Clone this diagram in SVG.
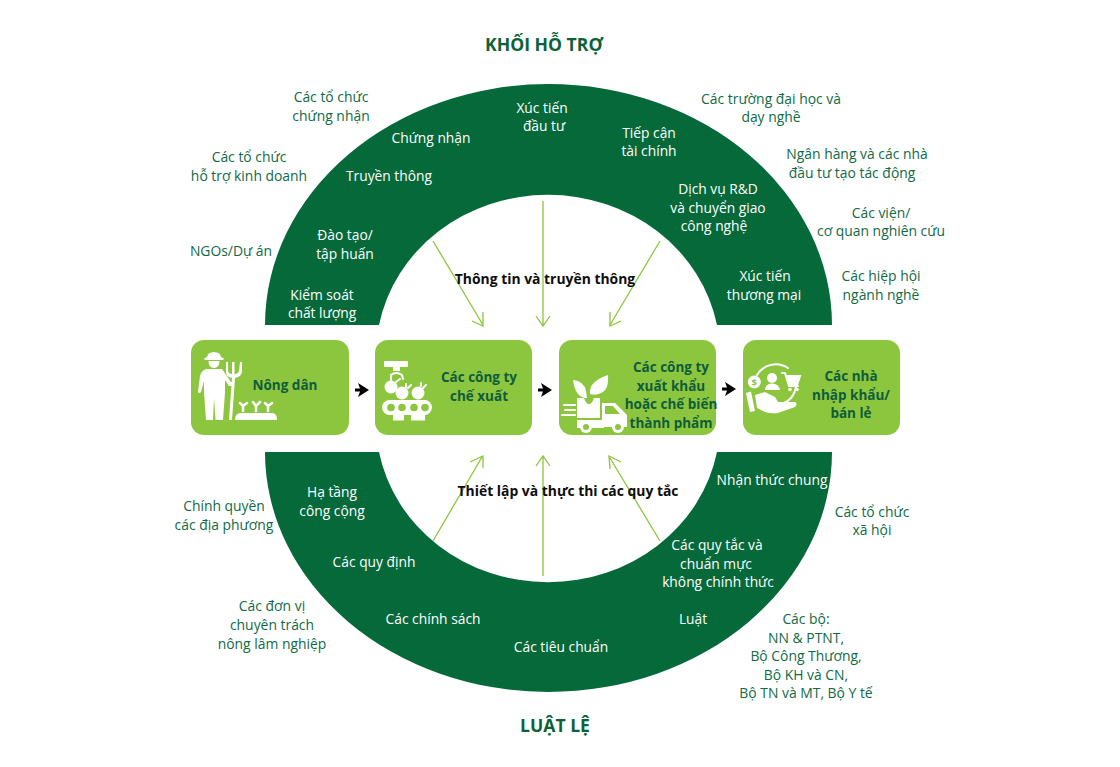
<svg xmlns="http://www.w3.org/2000/svg" width="1120" height="767" viewBox="0 0 1120 767">
<style>
text{font-family:"Open Sans","Noto Sans","Liberation Sans",sans-serif;text-anchor:middle}
.o{font-size:13.900px;fill:#0f6a46}
.w{font-size:13.800px;fill:#fff}
.h{font-size:17.600px;font-weight:700;fill:#0c6238}
.m{font-size:13.900px;font-weight:700;fill:#0d0d0d}
.n{font-size:13.500px;font-weight:700;fill:#0f5c3c}
.box{fill:#8cc63e}
.ring{fill:#05693a}
.c{stroke:#8cc63e;stroke-width:1.3;fill:none}
.k{fill:#000;stroke:none}
.i{fill:#fff;stroke:none}
.g{fill:#8cc63e;stroke:none}
.l{fill:none;stroke:#fff;stroke-width:2;stroke-linecap:round}
</style>
<rect width="1120" height="767" fill="#fff"/>
<g id="ring-top"><path class="ring" d="M265 325A283.500 241 0 0 1 832 325H717A172 160 0 0 0 379 325Z"/></g>
<g id="ring-bottom"><path class="ring" d="M265 452A283.500 240 0 0 0 832 452H717A172 160 0 0 1 379 452Z"/></g>
<g id="connectors">
<path class="c" d="M433 241L483 325M483 312L483 326L472 321"/>
<path class="c" d="M543 201V326M536 316L543 326L550 316"/>
<path class="c" d="M660 241L610 325M610 312L610 326L621 321"/>
<path class="c" d="M433 541L482 457M470 462L483 456L483 468"/>
<path class="c" d="M543 576V457M536 466L543 456L550 466"/>
<path class="c" d="M660 541L610 458M621 462L609 456L610 469"/>
<path class="k" d="M355 388.500H360L358 383L369 390L358 397L360 391.500H355Z"/>
<path class="k" d="M538 388.500H543L541 383L552 390L541 397L543 391.500H538Z"/>
<path class="k" d="M722 387.500H727L725 382L736 389L725 396L727 390.500H722Z"/>
</g>
<g id="titles">
<text class="h" x="544" y="51">KHỐI HỖ TRỢ</text>
<text class="h" x="555" y="732">LUẬT LỆ</text>
<text class="m" x="545" y="284">Thông tin và truyền thông</text>
<text class="m" x="568" y="496">Thiết lập và thực thi các quy tắc</text>
</g>
<g id="ring-labels">
<text class="w" x="431" y="143">Chứng nhận</text>
<text class="w" x="389" y="181">Truyền thông</text>
<text class="w" x="345" y="240">Đào tạo/</text><text class="w" x="345" y="259">tập huấn</text>
<text class="w" x="322" y="300">Kiểm soát</text><text class="w" x="322" y="318">chất lượng</text>
<text class="w" x="542" y="113">Xúc tiến</text><text class="w" x="544" y="131">đầu tư</text>
<text class="w" x="649" y="138">Tiếp cận</text><text class="w" x="649" y="156">tài chính</text>
<text class="w" x="718" y="194">Dịch vụ R&amp;D</text><text class="w" x="718" y="213">và chuyển giao</text><text class="w" x="714" y="231">công nghệ</text>
<text class="w" x="765" y="281">Xúc tiến</text><text class="w" x="764" y="300">thương mại</text>
<text class="w" x="332" y="497">Hạ tầng</text><text class="w" x="332" y="516">công cộng</text>
<text class="w" x="374" y="567">Các quy định</text>
<text class="w" x="433" y="624">Các chính sách</text>
<text class="w" x="561" y="652">Các tiêu chuẩn</text>
<text class="w" x="693" y="624">Luật</text>
<text class="w" x="717" y="550">Các quy tắc và</text><text class="w" x="716" y="569">chuẩn mực</text><text class="w" x="718" y="587">không chính thức</text>
<text class="w" x="772" y="485">Nhận thức chung</text>
</g>
<g id="outer-labels">
<text class="o" x="331" y="102">Các tổ chức</text><text class="o" x="331" y="121">chứng nhận</text>
<text class="o" x="249" y="162">Các tổ chức</text><text class="o" x="249" y="181">hỗ trợ kinh doanh</text>
<text class="o" x="231" y="256">NGOs/Dự án</text>
<text class="o" x="771" y="104">Các trường đại học và</text><text class="o" x="771" y="122">dạy nghề</text>
<text class="o" x="857" y="159">Ngân hàng và các nhà</text><text class="o" x="852" y="178">đầu tư tạo tác động</text>
<text class="o" x="881" y="218">Các viện/</text><text class="o" x="881" y="236">cơ quan nghiên cứu</text>
<text class="o" x="881" y="281">Các hiệp hội</text><text class="o" x="881" y="300">ngành nghề</text>
<text class="o" x="224" y="511">Chính quyền</text><text class="o" x="224" y="530">các địa phương</text>
<text class="o" x="272" y="611">Các đơn vị</text><text class="o" x="272" y="630">chuyên trách</text><text class="o" x="272" y="649">nông lâm nghiệp</text>
<text class="o" x="872" y="517">Các tổ chức</text><text class="o" x="872" y="535">xã hội</text>
<text class="o" x="806" y="624">Các bộ:</text><text class="o" x="806" y="643">NN &amp; PTNT,</text><text class="o" x="806" y="661">Bộ Công Thương,</text><text class="o" x="806" y="680">Bộ KH và CN,</text><text class="o" x="806" y="698">Bộ TN và MT, Bộ Y tế</text>
</g>
<g id="node-nong-dan">
<rect class="box" x="191" y="340" width="158" height="95" rx="13"/>
<path class="i" d="M204 358.500Q208 357 208 354Q214 350 220 354Q220 357 224 358.500Q224 360 220 360H208Q204 360 204 358.500Z"/>
<path class="i" d="M208.500 361H219.500Q219.500 368 214 368Q208.500 368 208.500 361Z"/>
<path class="i" d="M206 369H222L231 382H234V386H229L225 380V392L223 420H215.500L214 398L213 420H206L204 392V381L201 392Q199 394 198 392L200 376Q201 371 206 369Z"/>
<path class="i" d="M226 362L228 362V371Q229 374 232 374L232 362H234.500L234.500 374Q238 374 239 371L240 362H242V372Q241 377 235 378L232 420H229L232 378Q226 377 226 372Z"/>
<path class="i" d="M235 420Q235 413 241 413H272Q277 413 277 420Z"/>
<path class="l" style="stroke-width:2.500" d="M243 411V406M240 403L243 406L247 403M256 411V406M253 402L256 406L260 402M268 411V406M265 403L268 406L272 403"/>
<text class="n" x="285" y="390">Nông dân</text>
</g>
<g id="node-che-xuat">
<rect class="box" x="375" y="340" width="157" height="95" rx="13"/>
<rect class="i" x="384" y="361" width="24" height="6" rx="1"/>
<path class="i" d="M393 367H400V371H393Z"/>
<path class="l" d="M391 380V375Q396 371 402 375L403 379"/>
<circle class="i" cx="391" cy="387" r="6.500"/><circle class="i" cx="402" cy="393" r="6.500"/><circle class="i" cx="418" cy="393" r="6.500"/>
<path class="l" d="M396 382L400 379M408 388L411 385M406 387L406 384M423 388L426 385M421 386L421 383"/>
<rect class="i" x="382" y="400" width="50" height="15" rx="7.500"/>
<rect class="i" x="393" y="415" width="11" height="5.500"/><rect class="i" x="411" y="415" width="14" height="5.500"/>
<circle class="g" cx="391" cy="407.500" r="3.800"/><circle class="g" cx="402" cy="407.500" r="3.800"/><circle class="g" cx="414" cy="407.500" r="3.800"/><circle class="g" cx="425" cy="407.500" r="3.800"/>
<text class="n" x="479" y="382">Các công ty</text><text class="n" x="479" y="401">chế xuất</text>
</g>
<g id="node-xuat-khau">
<rect class="box" x="559" y="340" width="157" height="95" rx="13"/>
<path class="i" d="M573 380Q584 381 586 391L587 398H585Q575 396 573 380Z"/>
<path class="i" d="M608 375Q609 390 601 393Q596 396 590 394Q588 382 608 375Z"/>
<path class="i" d="M577 398H584Q586 404 589 404Q592 404 594 398H600V418H577Z"/>
<path class="i" d="M602 403H615L627 415V427H602Z"/>
<path class="g" d="M605 406H613L620 414H605Z"/>
<path class="i" d="M577 420H604V428H577Z"/>
<path class="l" style="stroke-width:2" d="M564 405H575M565 410H575M562 415H575"/>
<circle class="i" cx="586" cy="427" r="6"/><circle class="i" cx="618" cy="427" r="6"/>
<circle class="g" cx="586" cy="427" r="3"/><circle class="g" cx="618" cy="427" r="3"/>
<text class="n" x="671" y="372">Các công ty</text><text class="n" x="671" y="391">xuất khẩu</text><text class="n" x="671" y="409">hoặc chế biến</text><text class="n" x="671" y="428">thành phẩm</text>
</g>
<g id="node-nhap-khau">
<rect class="box" x="743" y="340" width="157" height="95" rx="13"/>
<path class="l" d="M757 375A22 22 0 0 1 788 368M796 387A22 22 0 0 1 782 404"/>
<circle class="i" cx="754.300" cy="382" r="6.500"/>
<text x="754.300" y="385.500" style="font-size:9.500px;font-weight:700;fill:#8cc63e">$</text>
<circle class="i" cx="772" cy="378" r="5"/>
<path class="i" d="M765 390Q765 383.500 772 383.500Q779 383.500 780 390Z"/>
<path class="l" d="M782 373H785L789 386H798M786 376H800L797 385"/>
<path class="i" d="M787 376H799L797 385H789Z"/>
<circle class="i" cx="790" cy="389.500" r="1.800"/><circle class="i" cx="797" cy="389.500" r="1.800"/>
<path class="i" d="M746 393L751 391.500L755 411L750 412Z"/>
<path class="i" d="M755 395L765 392L775 397L778 402L795 402Q798 404 795 407L778 413Q771 414 765 412L757 408Z"/>
<text class="n" x="851" y="381">Các nhà</text><text class="n" x="851" y="400">nhập khẩu/</text><text class="n" x="851" y="418">bán lẻ</text>
</g>
</svg>
